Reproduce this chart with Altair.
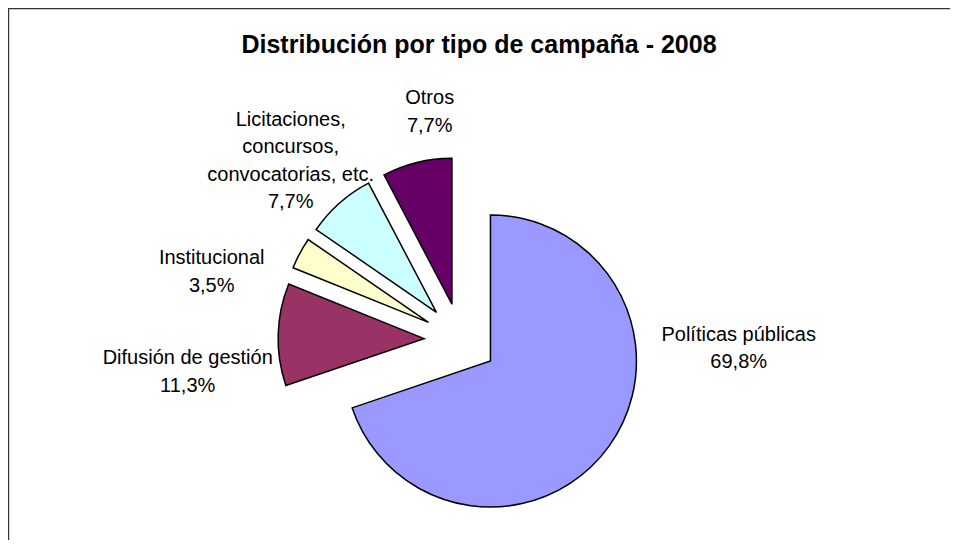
import math
import altair as alt
import pandas as pd

# ---- data ----
categories = ["Políticas públicas", "Difusión de gestión", "Institucional",
              "Licitaciones, concursos, convocatorias, etc.", "Otros"]
label_lines = [["Políticas públicas"], ["Difusión de gestión"], ["Institucional"],
               ["Licitaciones,", "concursos,", "convocatorias, etc."], ["Otros"]]
values = [69.8, 11.3, 3.5, 7.7, 7.7]
title_text = "Distribución por tipo de campaña - 2008"

# ---- style ----
colors = ["#9999FF", "#993366", "#FFFFCC", "#CCFFFF", "#660066"]
CX, CY = 452.7, 331.7          # pie centre (pixels)
RADIUS = 146
EXPLODE = 36.6
# offset of each label's first line from the pie centre
label_offsets = [(278, -5), (-273, 18.5), (-249, -81.5), (-170, -220), (-31, -241.5)]
W, H = 942, 532
FONT = "Liberation Sans"

total = sum(values)
rows = []
cum = 0.0
for i, (cat, v) in enumerate(zip(categories, values)):
    start, end = cum, cum + v
    cum = end
    ang = (start + end) / 2 / total * 2 * math.pi
    pct = f"{v:.1f}".replace(".", ",") + "%"
    rows.append({
        "category": cat,
        "order": i,
        "value": v,
        "start": start,
        "end": end,
        "cx": CX + EXPLODE * math.sin(ang),
        "cy": CY - EXPLODE * math.cos(ang),
        "lx": CX + label_offsets[i][0],
        "ly": CY + label_offsets[i][1],
        "label": "\n".join(label_lines[i] + [pct]),
    })
df = pd.DataFrame(rows)

base = alt.Chart(df)

theta_scale = alt.Scale(domain=[0, total], range=[0, 2 * math.pi])

slices = base.mark_arc(outerRadius=RADIUS, stroke="black", strokeWidth=1.5).encode(
    x=alt.X("cx:Q", scale=None, axis=None),
    y=alt.Y("cy:Q", scale=None, axis=None),
    theta=alt.Theta("start:Q", scale=theta_scale),
    theta2="end:Q",
    color=alt.Color("category:N", scale=alt.Scale(domain=categories, range=colors), legend=None),
)

labels = base.mark_text(font=FONT, fontSize=20, color="black", align="center",
                        baseline="middle", lineBreak="\n", lineHeight=27.6).encode(
    x=alt.X("lx:Q", scale=None, axis=None),
    y=alt.Y("ly:Q", scale=None, axis=None),
    text="label:N",
)

title = alt.Chart(pd.DataFrame({"t": [title_text]})).mark_text(
    font=FONT, fontSize=25, fontWeight="bold", color="black", align="center", baseline="middle"
).encode(x=alt.value(471), y=alt.value(37), text="t:N")

frame_top = alt.Chart(pd.DataFrame({"a": [0]})).mark_rule(color="#333333", strokeWidth=1.2).encode(
    x=alt.value(0), x2=alt.value(W), y=alt.value(0.6))
frame_left = alt.Chart(pd.DataFrame({"a": [0]})).mark_rule(color="#333333", strokeWidth=1.2).encode(
    x=alt.value(0.6), y=alt.value(0), y2=alt.value(H))

chart = alt.layer(slices, labels, title, frame_top, frame_left).properties(
    width=W, height=H, padding=0, autosize=alt.AutoSizeParams(type="none")
).configure_view(stroke=None).configure(background="white")

chart.save("out.html", embed_options={"renderer": "svg", "actions": False})
